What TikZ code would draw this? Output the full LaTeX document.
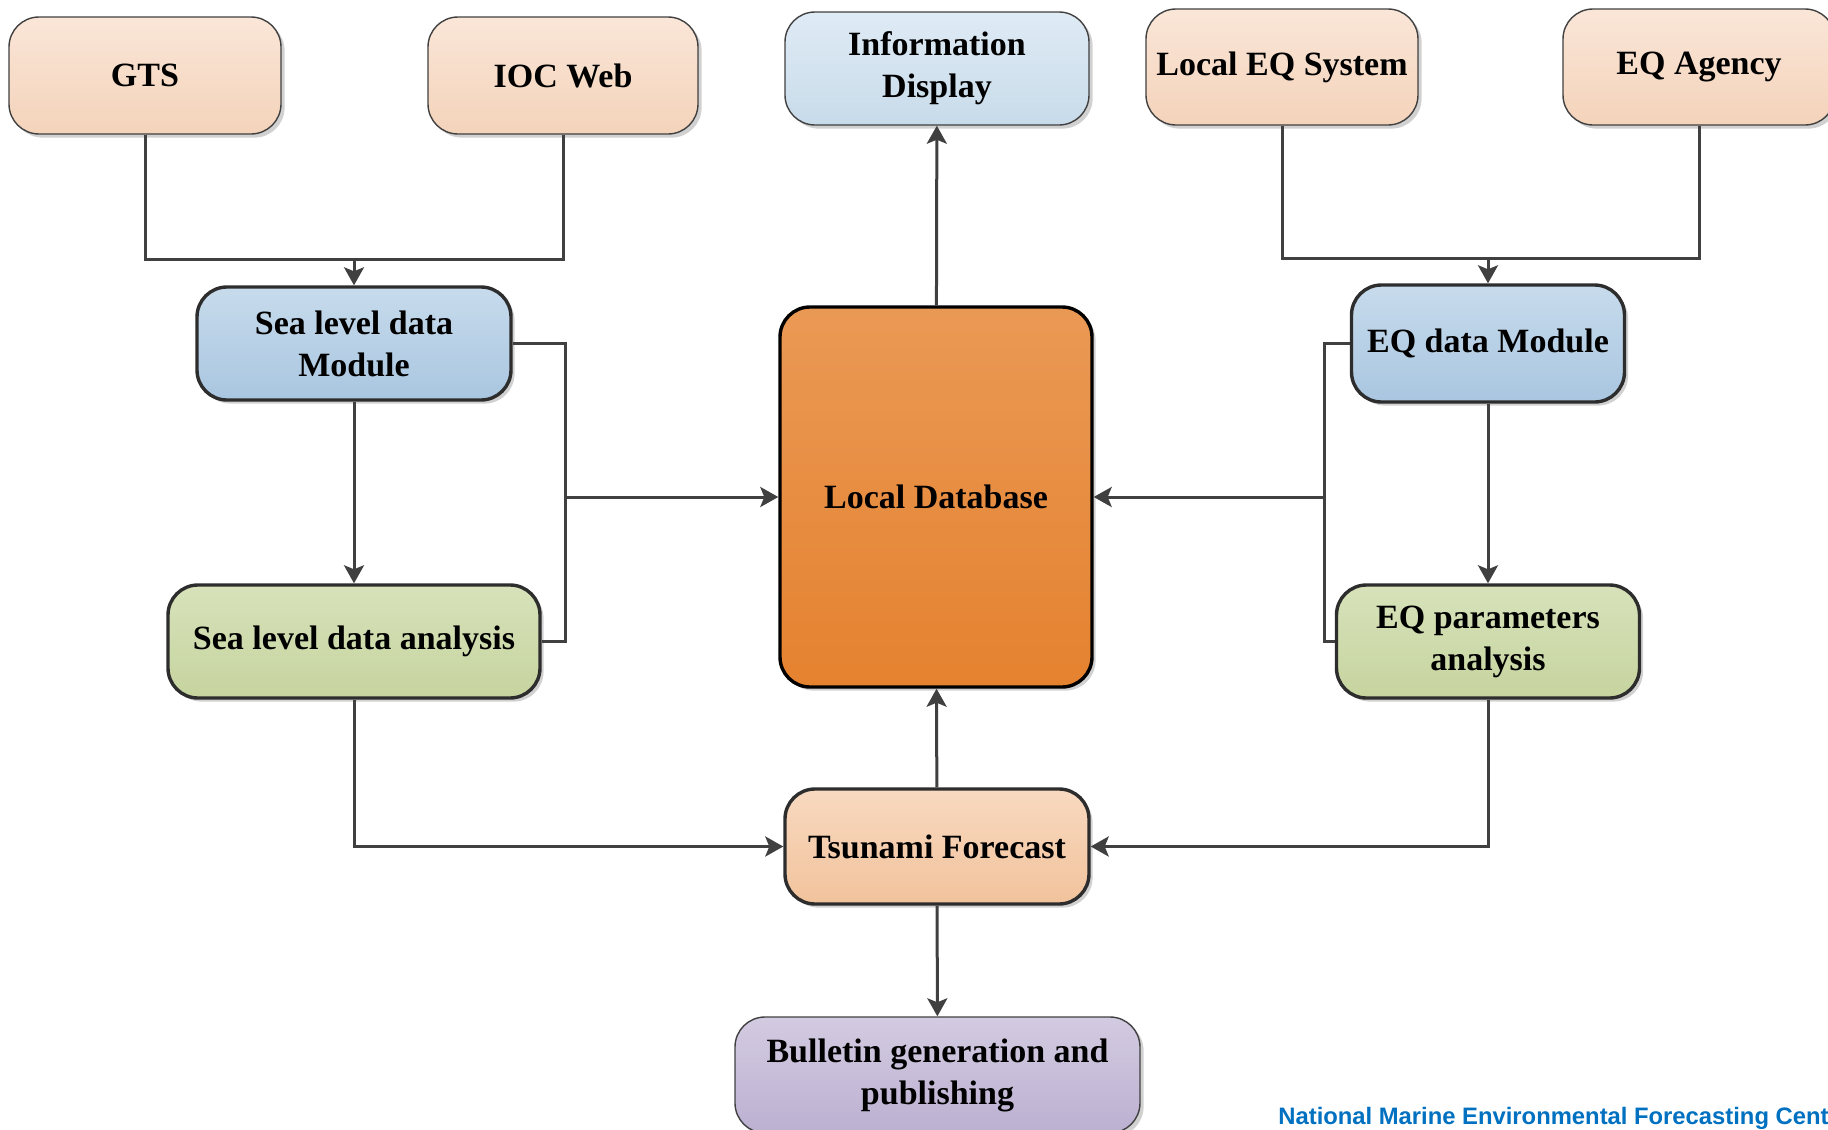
\documentclass[tikz,border=0pt]{standalone}
\usepackage{fontspec}
\setmainfont{Liberation Serif}
\newfontfamily\wmfont{Liberation Sans}
\usetikzlibrary{arrows.meta,shadows}
\definecolor{lineg}{HTML}{404040}
\definecolor{peachtop}{HTML}{FAE6D8}
\definecolor{peachbot}{HTML}{F4D3BA}
\definecolor{bluetop}{HTML}{C7DBEC}
\definecolor{bluebot}{HTML}{A9C6E0}
\definecolor{infotop}{HTML}{DFEBF5}
\definecolor{infobot}{HTML}{C8DBEA}
\definecolor{orangetop}{HTML}{EA9955}
\definecolor{orangebot}{HTML}{E5822F}
\definecolor{greentop}{HTML}{D7E2BA}
\definecolor{greenbot}{HTML}{C6D49F}
\definecolor{tsutop}{HTML}{F8D9C0}
\definecolor{tsubot}{HTML}{F2C39C}
\definecolor{purptop}{HTML}{D3CBE1}
\definecolor{purpbot}{HTML}{BCB0D1}
\definecolor{wmblue}{HTML}{0070C0}
\tikzset{
  box/.style={rounded corners=15pt, align=center, inner sep=2pt,
    font=\fontsize{17}{21}\selectfont\bfseries,
    drop shadow={shadow xshift=1.8pt, shadow yshift=-1.8pt, opacity=0.18, fill=black}},
  thinbox/.style={box, draw=lineg, line width=0.7pt},
  thickbox/.style={box, draw=lineg!70!black, line width=1.7pt},
  peach/.style={top color=peachtop, bottom color=peachbot},
  blue/.style={top color=bluetop, bottom color=bluebot},
  info/.style={top color=infotop, bottom color=infobot},
  orange/.style={top color=orangetop, bottom color=orangebot},
  green/.style={top color=greentop, bottom color=greenbot},
  tsu/.style={top color=tsutop, bottom color=tsubot},
  purp/.style={top color=purptop, bottom color=purpbot},
  conn/.style={draw=lineg, line width=1.5pt},
  arr/.style={conn, -{Stealth[length=9pt, width=10pt, inset=2pt]}}
}
\begin{document}
\begin{tikzpicture}[x=0.5pt, y=-0.5pt]
\useasboundingbox (0,0) rectangle (1828,1130);
% top row
\node[thinbox, peach, minimum width=136pt, minimum height=58.5pt] (GTS) at (145,75.5) {GTS};
\node[thinbox, peach, minimum width=135pt, minimum height=58.5pt] (IOC) at (563,75.5) {IOC Web};
\node[thinbox, info, minimum width=152pt, minimum height=56.5pt] (Info) at (937,68.5) {Information\\Display};
\node[thinbox, peach, minimum width=136pt, minimum height=58pt] (LEQ) at (1282,67) {Local EQ System};
\node[thinbox, peach, minimum width=136pt, minimum height=58pt] (EQA) at (1699,67) {EQ Agency};
% modules
\node[thickbox, blue, minimum width=157pt, minimum height=56.5pt] (SLM) at (354,343.5) {Sea level data\\Module};
\node[thickbox, blue, minimum width=136.5pt, minimum height=58.5pt] (EQM) at (1488,343.5) {EQ data Module};
\node[box, draw=black, line width=1.7pt, orange, minimum width=156pt, minimum height=190pt] (DB) at (936,497) {Local Database};
\node[thickbox, green, minimum width=186pt, minimum height=56.5pt] (SLA) at (354,641.5) {Sea level data analysis};
\node[thickbox, green, minimum width=151.5pt, minimum height=56.5pt] (EQP) at (1488,641.5) {EQ parameters\\analysis};
\node[thickbox, tsu, minimum width=152pt, minimum height=57.5pt] (TF) at (937,846.5) {Tsunami Forecast};
\node[thinbox, purp, minimum width=202.5pt, minimum height=58pt] (BG) at (937.5,1075) {Bulletin generation and\\publishing};
% watermark
\node[anchor=west, inner sep=0pt, text=wmblue, font=\wmfont\fontsize{11.9}{13}\selectfont\bfseries] (WM) at (1278,1118) {National Marine Environmental Forecasting Cent};
% connectors
\coordinate (jl) at (354,259);
\coordinate (jr) at (1488,258);
\coordinate (bl) at (565,497);
\coordinate (br) at (1324,497);
\draw[conn] (GTS.south) |- (jl);
\draw[conn] (IOC.south) |- (jl);
\draw[arr] (jl) -- (SLM.north);
\draw[conn] (LEQ.south) |- (jr);
\draw[conn] (EQA.south) |- (jr);
\draw[arr] (jr) -- (EQM.north);
\draw[conn] (SLM.east) -| (bl);
\draw[conn] (SLA.east) -| (bl);
\draw[arr] (bl) -- (DB.west);
\draw[conn] (EQM.west) -| (br);
\draw[conn] (EQP.west) -| (br);
\draw[arr] (br) -- (DB.east);
\draw[arr] (SLM) -- (SLA);
\draw[arr] (EQM) -- (EQP);
\draw[arr] (DB) -- (Info);
\draw[arr] (TF) -- (DB);
\draw[arr] (TF) -- (BG);
\draw[arr] (SLA.south) |- (TF.west);
\draw[arr] (EQP.south) |- (TF.east);
\end{tikzpicture}
\end{document}
